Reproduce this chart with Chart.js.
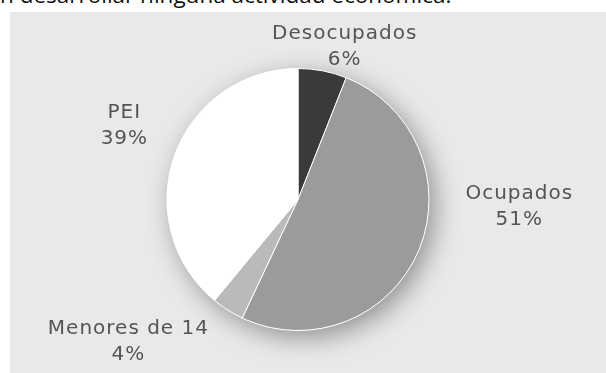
<!DOCTYPE html>
<html>
<head>
<meta charset="utf-8">
<script src="https://cdn.jsdelivr.net/npm/chart.js@4.4.1/dist/chart.umd.min.js"></script>
<style>
  html, body { margin: 0; padding: 0; background: #fff; }
  body { width: 606px; height: 373px; position: relative; overflow: hidden; }
  .caption {
    position: absolute; left: 0; top: -16px;
    font: 22.5px "Open Sans", sans-serif; color: #111; white-space: nowrap;
    line-height: 22.5px;
  }
  .panel {
    position: absolute; left: 10px; top: 12px; right: 0; bottom: 0;
    background: #e9e9e9;
  }
  #wrap { position: absolute; left: 0; top: 0; width: 606px; height: 373px; }
</style>
</head>
<body>
<div class="caption">n desarrollar ninguna actividad económica.</div>
<div class="panel"></div>
<div id="wrap"><canvas id="pie"></canvas></div>
<script>
// population split, clockwise from 12 o'clock
const categories = ['Desocupados', 'Ocupados', 'Menores de 14', 'PEI'];
const shares = [6, 51, 4, 39];
const sliceColors = ['#3a3a3a', '#9b9b9b', '#bababa', '#ffffff'];

// where each label sits: angle (deg, clockwise from top) and distance in radii
const labelAngles = [17, 92, 230, 293];
const labelDist = [1.22, 1.69, 1.69, 1.44];

// soft drop shadow under the whole disc
const discShadow = {
  id: 'discShadow',
  beforeDatasetsDraw(chart) {
    const arc = chart.getDatasetMeta(0).data[0];
    if (!arc) return;
    const { x, y, outerRadius } = arc.getProps(['x', 'y', 'outerRadius'], true);
    const c = chart.ctx;
    c.save();
    c.shadowColor = 'rgba(0,0,0,0.38)';
    c.shadowBlur = 26;
    c.shadowOffsetX = 6;
    c.shadowOffsetY = 7;
    c.fillStyle = '#ffffff';
    c.beginPath();
    c.arc(x, y, outerRadius, 0, Math.PI * 2);
    c.fill();
    c.restore();
  }
};

const sliceLabels = {
  id: 'sliceLabels',
  afterDatasetsDraw(chart) {
    const c = chart.ctx;
    const arc = chart.getDatasetMeta(0).data[0];
    const { x, y, outerRadius } = arc.getProps(['x', 'y', 'outerRadius'], true);
    c.save();
    c.fillStyle = '#555';
    c.font = '20px "DejaVu Sans", sans-serif';
    c.letterSpacing = '1px';
    c.textAlign = 'center';
    c.textBaseline = 'middle';
    categories.forEach((name, i) => {
      const a = labelAngles[i] * Math.PI / 180;
      const lx = x + Math.sin(a) * outerRadius * labelDist[i];
      const ly = y - Math.cos(a) * outerRadius * labelDist[i];
      c.fillText(name, lx, ly - 13);
      c.fillText(shares[i] + '%', lx, ly + 13);
    });
    c.restore();
  }
};

new Chart(document.getElementById('pie'), {
  type: 'pie',
  data: {
    labels: categories,
    datasets: [{
      data: shares,
      backgroundColor: sliceColors,
      borderColor: '#ffffff',
      borderWidth: 1,
      hoverOffset: 0
    }]
  },
  options: {
    responsive: true,
    maintainAspectRatio: false,
    animation: false,
    events: [],
    layout: { padding: { top: 68, bottom: 42, left: 0, right: 10 } },
    plugins: {
      legend: { display: false },
      tooltip: { enabled: false }
    }
  },
  plugins: [discShadow, sliceLabels]
});
</script>
</body>
</html>
